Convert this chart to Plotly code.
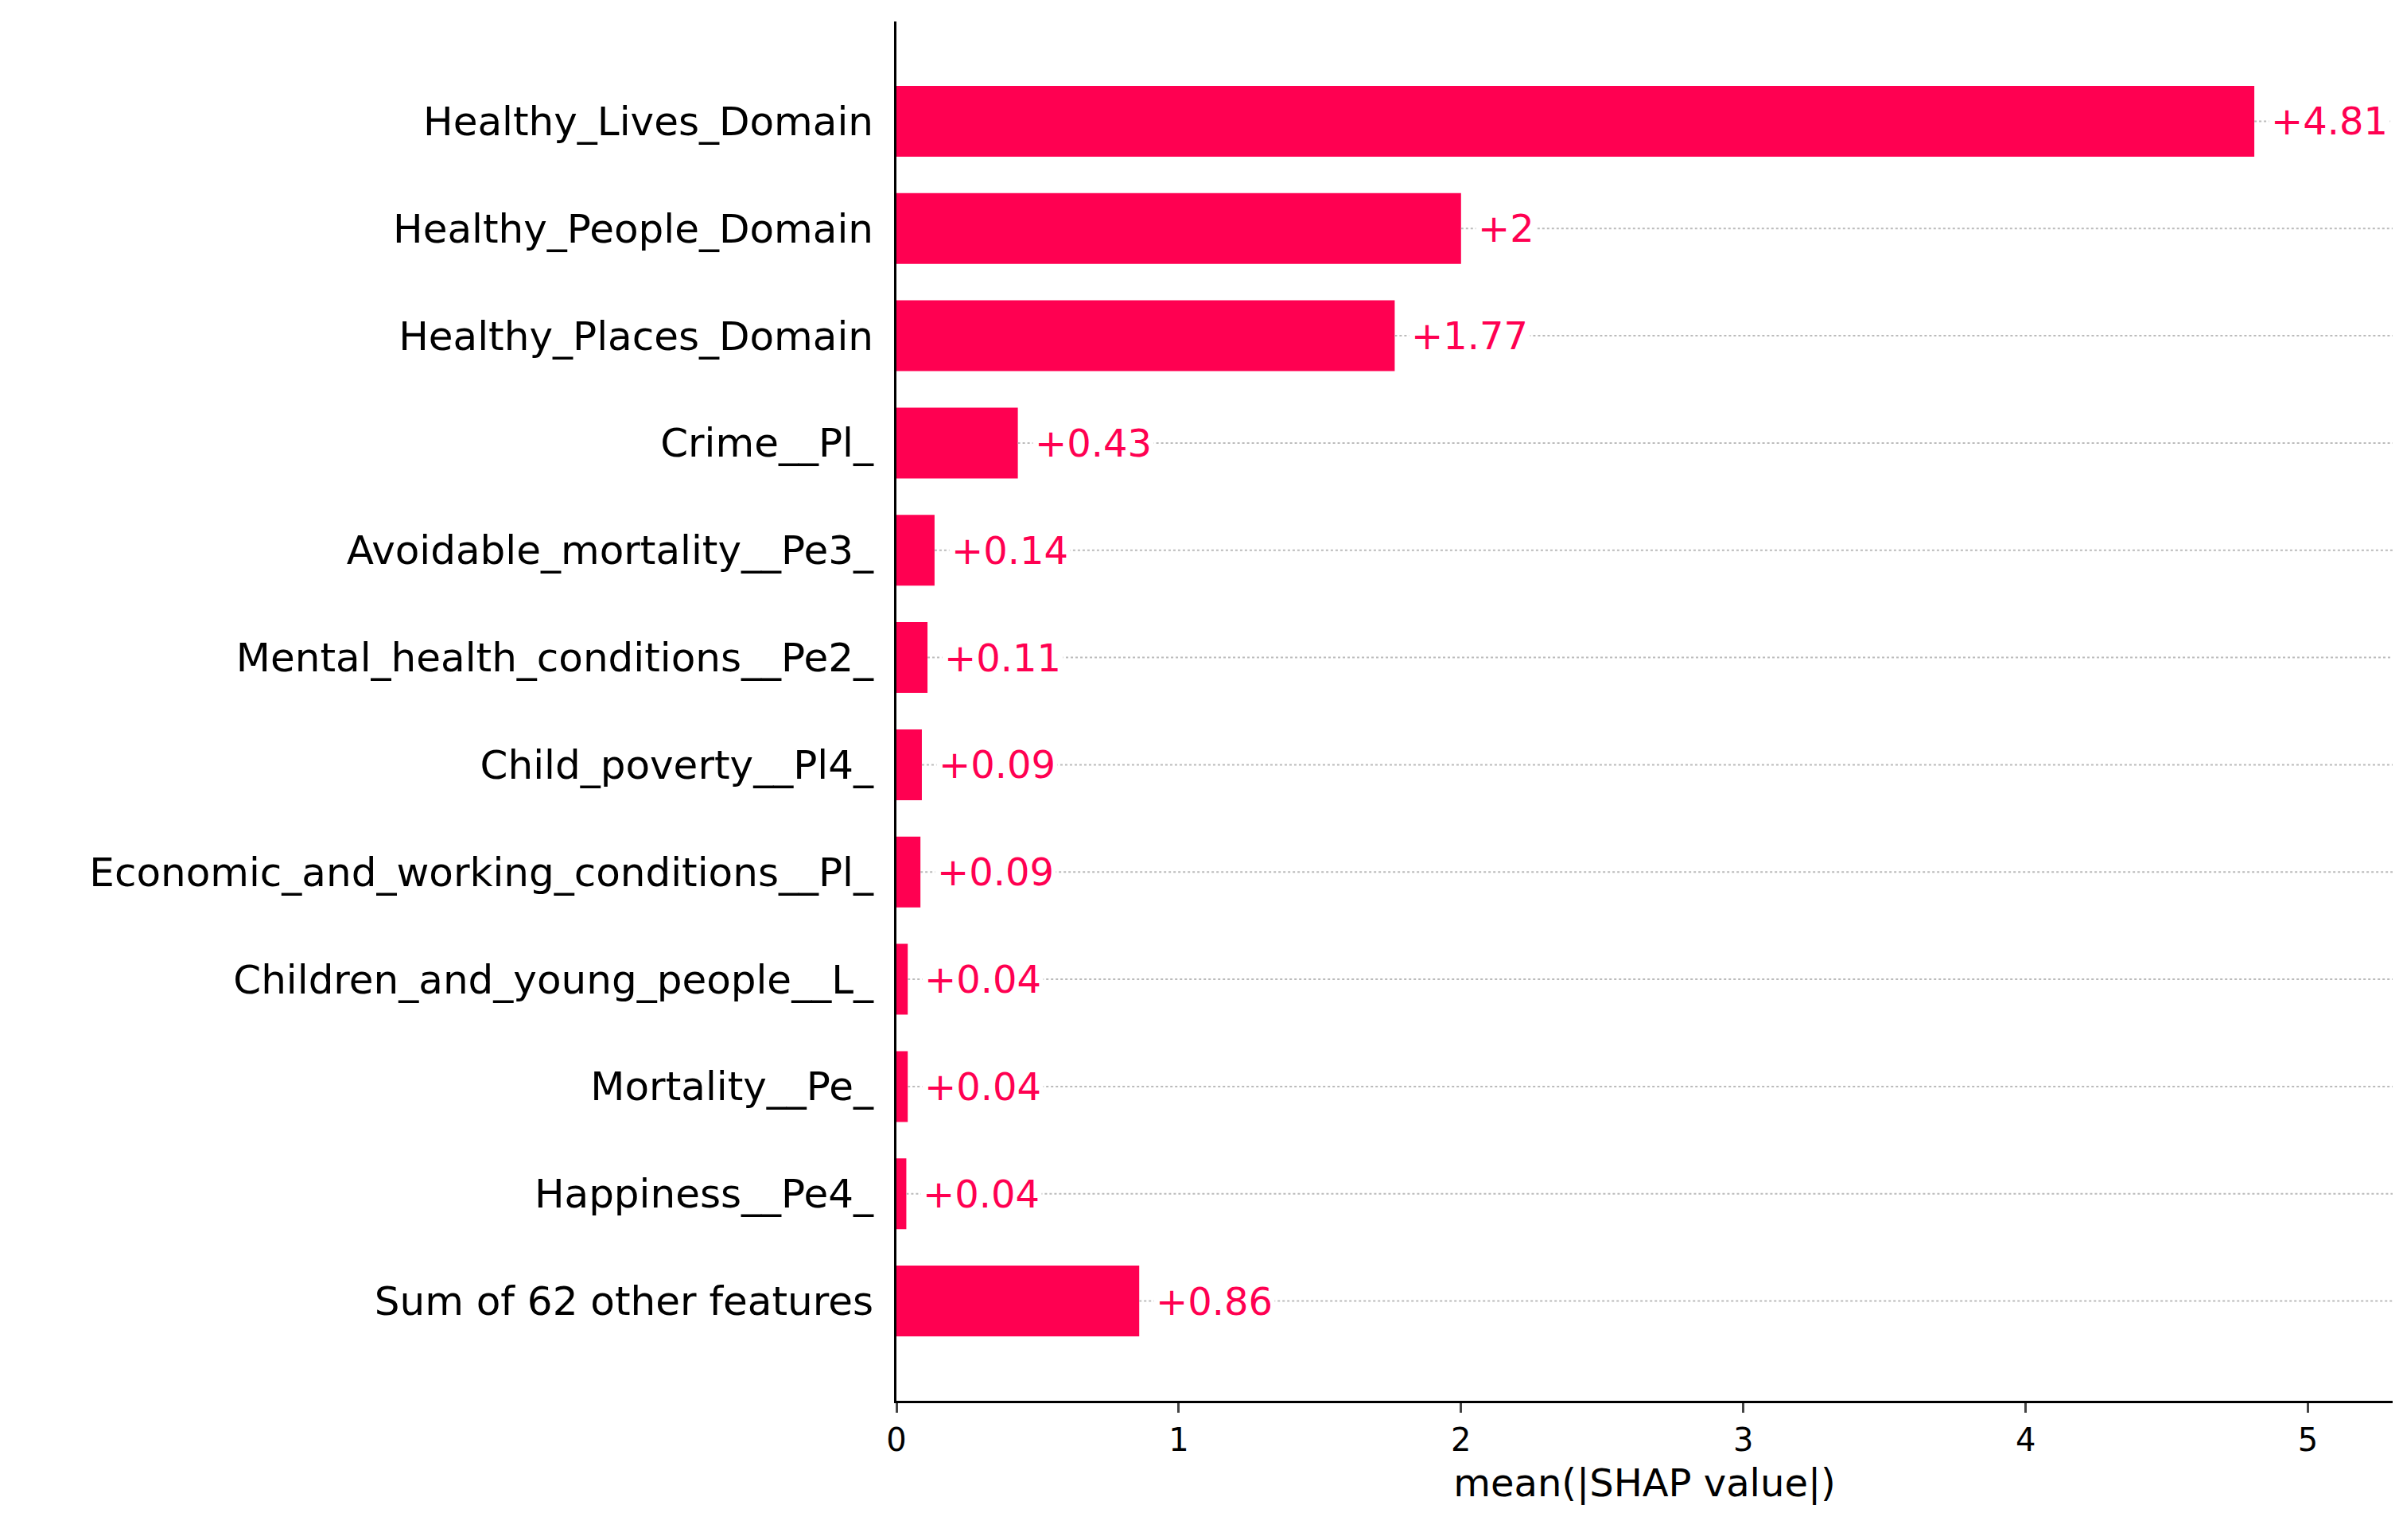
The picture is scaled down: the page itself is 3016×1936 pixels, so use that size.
import plotly.graph_objects as go

features = ["Healthy_Lives_Domain", "Healthy_People_Domain", "Healthy_Places_Domain",
            "Crime__Pl_", "Avoidable_mortality__Pe3_", "Mental_health_conditions__Pe2_",
            "Child_poverty__Pl4_", "Economic_and_working_conditions__Pl_",
            "Children_and_young_people__L_", "Mortality__Pe_", "Happiness__Pe4_",
            "Sum of 62 other features"]
values = [4.81, 2.0, 1.765, 0.43, 0.135, 0.11, 0.09, 0.085, 0.04, 0.04, 0.035, 0.86]
labels = ["+4.81", "+2", "+1.77", "+0.43", "+0.14", "+0.11", "+0.09", "+0.09",
          "+0.04", "+0.04", "+0.04", "+0.86"]
xmax = 5.3
red = "#ff0051"

fig = go.Figure()
for f, v in zip(features, values):
    fig.add_trace(go.Scatter(x=[v, xmax], y=[f, f], mode="lines",
                             line=dict(color="#bbbbbb", width=2, dash="dot"),
                             showlegend=False, hoverinfo="skip"))
fig.add_trace(go.Bar(x=values, y=features, orientation="h", width=0.66,
                     marker=dict(color=red, line_width=0), showlegend=False))
for f, v, t in zip(features, values, labels):
    fig.add_annotation(x=v, y=f, text=t, showarrow=False, xanchor="left", xshift=18,
                       font=dict(color=red, size=48), bgcolor="white", borderpad=2)

fig.update_layout(
    width=3016, height=1936, plot_bgcolor="white", paper_bgcolor="white",
    font=dict(family="DejaVu Sans", color="black", size=50),
    margin=dict(l=1119, r=16, t=19, b=183),
    xaxis=dict(range=[0, xmax], showgrid=False, zeroline=False, showline=True,
               linecolor="black", linewidth=3, ticks="outside", ticklen=12, tickwidth=3,
               tickvals=[0, 1, 2, 3, 4, 5], tickfont=dict(size=40),
               title=dict(text="mean(|SHAP value|)", font=dict(size=48), standoff=16)),
    yaxis=dict(range=[11.93, -0.93], showgrid=False, zeroline=False, showline=True,
               linecolor="black", linewidth=3, ticks="", tickfont=dict(size=50),
               ticklabelstandoff=16),
)
fig.write_html("out.html")
